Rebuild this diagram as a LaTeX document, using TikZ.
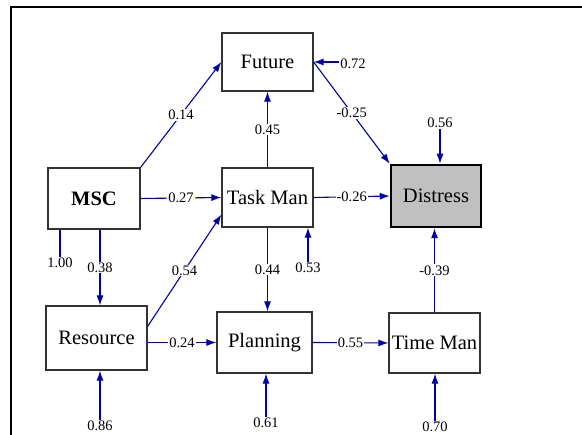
\documentclass[tikz,border=0pt]{standalone}
\usepackage{fontspec}
\setmainfont{Liberation Serif}
\usetikzlibrary{arrows.meta}
\definecolor{pathblue}{RGB}{0,0,170}
\definecolor{boxgray}{RGB}{192,192,192}

\begin{document}
\begin{tikzpicture}[x=1pt, y=-1pt,
  var/.style={draw=black!80, line width=1.2pt, inner sep=0pt, font=\fontsize{20.5}{24}\selectfont},
  link/.style={draw=pathblue, line width=1.1pt, -{Latex[length=10pt,width=7pt]}},
  coef/.style={fill=white, inner sep=1pt, font=\fontsize{14.5}{16}\selectfont},
  err/.style={inner sep=1pt, font=\fontsize{14.5}{16}\selectfont}]
\useasboundingbox (0,0) rectangle (582,435);
% --- Frame ---
\draw[line width=1.5pt] (11,435) -- (11,7) -- (582,7);
%
% --- Variables ---
\node[var, minimum width=91pt, minimum height=58pt] (fut) at (267.5,62) {Future};
\node[var, minimum width=92pt, minimum height=61pt, font=\fontsize{20.5}{24}\selectfont\bfseries] (msc) at (94,198.5) {MSC};
\node[var, minimum width=91pt, minimum height=59pt] (task) at (267.5,197.5) {Task Man};
\node[var, minimum width=90pt, minimum height=62pt, draw=black, line width=2.5pt, fill=boxgray] (dis) at (436,196) {Distress};
\node[var, minimum width=101pt, minimum height=64pt] (res) at (96.5,338) {Resource};
\node[var, minimum width=95pt, minimum height=61pt] (pln) at (264.5,342.5) {Planning};
\node[var, minimum width=91pt, minimum height=60pt] (tim) at (434.5,343) {Time Man};
%
% --- Error terms ---
\node[err] (e72) at (353,64) {0.72};
\node[err] (e56) at (440,123) {0.56};
\node[err] (e53) at (308,268) {0.53};
\node[err] (e100) at (60,263) {1.00};
\node[err] (e86) at (100,426) {0.86};
\node[err] (e61) at (266,423) {0.61};
\node[err] (e70) at (435,427) {0.70};
%
% --- Paths ---
\draw[link] (msc.north east) -- (fut.west) node[coef, midway] {0.14};
\draw[link] (task.north) -- (fut.south) node[coef, midway] {0.45};
\draw[link] (fut.east) -- (dis.north west) node[coef, midway] {-0.25};
\draw[link] (msc.east) -- (task.west) node[coef, midway] {0.27};
\draw[link] (task.east) -- (dis.west) node[coef, midway] {-0.26};
\draw[link] ([xshift=6pt]msc.south) -- ([xshift=6pt]msc.south |- res.north) node[coef, midway] {0.38};
\draw[link] ([yshift=-21pt]res.north east) -- ([yshift=13pt]task.south west) node[coef, midway] {0.54};
\draw[link] (task.south) -- (task.south |- pln.north) node[coef, midway] {0.44};
\draw[link] (pln.west -| res.east) -- (pln.west) node[coef, midway] {0.24};
\draw[link] (pln.east) -- (tim.west) node[coef, midway] {0.55};
\draw[link] (tim.north) -- (tim.north |- dis.south) node[coef, midway] {-0.39};
%
% --- Residuals ---
\draw[link] (e72.west |- fut.east) -- (fut.east);
\draw[link] (e56.south) -- (e56.south |- dis.north);
\draw[link] (e53.north) -- (e53.north |- task.south);
\draw[draw=pathblue, line width=1.1pt] (e100.north |- msc.south) -- (e100.north);
\draw[link] (e86.north) -- (e86.north |- res.south);
\draw[link] (e61.north) -- (e61.north |- pln.south);
\draw[link] (e70.north) -- (e70.north |- tim.south);
%
\end{tikzpicture}
\end{document}
